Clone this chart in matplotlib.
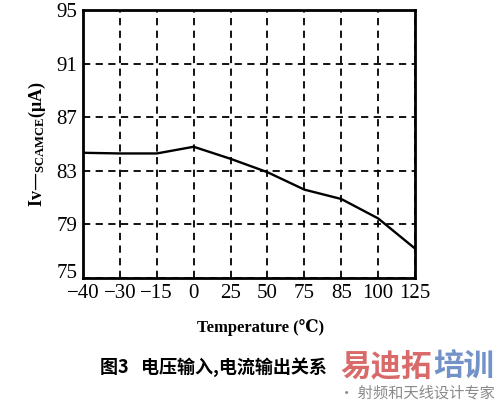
import numpy as np
import matplotlib
matplotlib.use('Agg')
import matplotlib.pyplot as plt
import matplotlib.transforms as mtransforms

# Temperature categories (evenly spaced on the plot) and measured current
temp_labels = ['-40', '-30', '-15', '0', '25', '50', '75', '85', '100', '125']
current = [84.35, 84.3, 84.3, 84.8, 83.9, 82.9, 81.6, 80.9, 79.45, 77.2]
y_ticks = [75, 79, 83, 87, 91, 95]

plt.rcParams['font.family'] = ['Liberation Serif', 'DejaVu Serif']
plt.rcParams['mathtext.default'] = 'regular'

fig = plt.figure(figsize=(5.0, 4.07), dpi=100)
ax = fig.add_axes([0.166, 0.317, 0.664, 0.658])

x = np.arange(len(temp_labels))
ax.plot(x, current, color='black', linewidth=1.7)

ax.set_xlim(0, len(temp_labels) - 1)
ax.set_ylim(75, 95)
ax.set_xticks(x)
ax.set_xticklabels([t.replace('-', '\u2212') for t in temp_labels])
ax.set_yticks(y_ticks)

# dashed black grid, drawn below the curve
ax.grid(True, linestyle=(0, (4, 3)), color='black', linewidth=1.3)
ax.set_axisbelow(True)

ax.tick_params(length=0, labelsize=15, pad=4)
for sp in ax.spines.values():
    sp.set_linewidth(2)

# lift the bottom y label a little so it clears the -40 label
fig.canvas.draw()
lab75 = ax.get_yticklabels()[0]
lab75.set_transform(lab75.get_transform() +
                    mtransforms.ScaledTranslation(0, 5 / 72, fig.dpi_scale_trans))

ax.set_xlabel('Temperature (\u2103)', fontsize=12, fontweight='bold', labelpad=12)
ax.xaxis.label.set_x(0.535)
ax.set_ylabel('Iv\u2014$_{SCAMCE}$(\u03bcA)', fontsize=13, fontweight='bold', labelpad=6)

# caption and watermark
cjk = ['Noto Sans CJK SC', 'DejaVu Sans']
fig.text(0.2, 0.098, '图3   电压输入,电流输出关系', fontsize=13, fontweight='bold',
         family=cjk, va='center', ha='left')
fig.text(0.68, 0.098, '易迪拓', fontsize=22, fontweight='bold', family=cjk,
         color='#d96a6a', va='center', ha='left')
fig.text(0.866, 0.098, '培训', fontsize=22, fontweight='bold', family=cjk,
         color='#7393c8', va='center', ha='left')
fig.text(0.99, 0.035, '· 射频和天线设计专家', fontsize=11, family=cjk,
         color='#8a8a8a', va='center', ha='right')

fig.savefig('out.png', dpi=100)
